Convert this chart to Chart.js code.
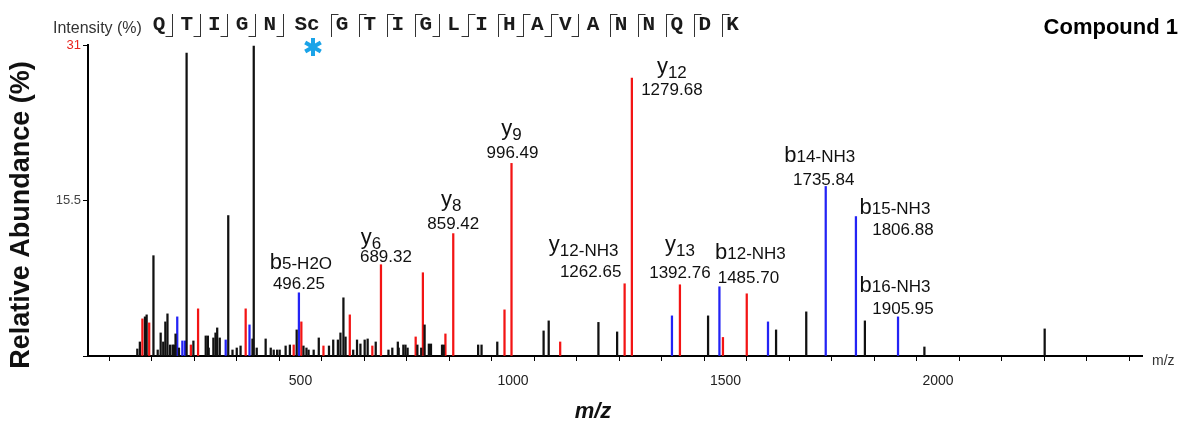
<!DOCTYPE html>
<html>
<head>
<meta charset="utf-8">
<script src="https://cdn.jsdelivr.net/npm/chart.js@4.4.1/dist/chart.umd.min.js"></script>
<style>
  html, body { margin: 0; padding: 0; background: #fff; }
</style>
</head>
<body>
<canvas id="spectrum" width="1188" height="433"></canvas>
<script>
// Peaks: m/z and relative abundance (%)
const blackMz = [116, 122, 134, 138, 154, 164, 171, 177, 182, 187, 193, 199, 202, 206, 214, 232, 248,
    277, 282, 284, 295, 300, 304, 310, 330, 340, 350, 359, 387, 390, 397, 418, 430, 437, 445, 451,
    465, 475, 491, 507, 514, 519, 531, 543, 567, 577, 588, 594, 601, 606, 624, 633, 641, 651, 658,
    677, 707, 716, 729, 731, 742, 747, 752, 775, 784, 792, 802, 807, 833, 837, 918, 926, 963,
    1072, 1084, 1201, 1245, 1459, 1619, 1690, 1828, 1968, 2251];
const blackAbund = [0.7, 1.4, 3.9, 4.1, 10.0, 0.6, 2.3, 1.4, 3.4, 4.2, 1.1, 1.1, 1.1, 2.2, 0.8, 30.2, 1.5,
    2.0, 2.0, 0.8, 1.8, 2.3, 2.8, 1.8, 14.0, 0.6, 0.8, 1.0, 1.7, 30.9, 0.8, 1.7, 0.8, 0.6, 0.6, 0.6,
    1.0, 1.1, 2.6, 1.0, 0.8, 0.6, 0.6, 1.8, 1.0, 1.6, 1.6, 2.3, 5.8, 1.9, 0.6, 1.6, 1.2, 1.6, 1.7,
    1.4, 0.6, 0.8, 1.4, 0.8, 1.1, 1.1, 0.8, 1.1, 0.8, 3.1, 1.2, 1.2, 1.1, 1.1, 1.1, 1.1, 1.4,
    2.5, 3.5, 3.35, 2.4, 4.0, 2.6, 4.4, 3.5, 0.9, 2.7];

const redMz = [128, 144, 242, 259, 371, 484, 502, 554, 616, 669, 689.32, 771, 788, 841, 859.42,
    980, 996.49, 1111, 1262.65, 1279.68, 1392.76, 1494, 1550];
const redAbund = [3.7, 3.3, 1.1, 4.7, 4.7, 1.1, 3.4, 1.0, 4.1, 1.0, 9.1, 1.9, 8.3, 2.2, 12.2,
    4.6, 19.2, 1.4, 7.2, 27.7, 7.1, 1.85, 6.2];

const blueMz = [210, 222, 228, 324, 380, 496.25, 1374, 1485.70, 1600, 1735.84, 1806.88, 1905.95];
const blueAbund = [3.9, 1.5, 1.5, 1.6, 3.1, 6.3, 4.0, 6.9, 3.4, 16.9, 13.9, 3.9];

// Labelled fragment ions
const ionNames = ["b5-H2O", "y6", "y8", "y9", "y12-NH3", "y12", "y13", "b12-NH3", "b14-NH3", "b15-NH3", "b16-NH3"];
const ionMz = [496.25, 689.32, 859.42, 996.49, 1262.65, 1279.68, 1392.76, 1485.70, 1735.84, 1806.88, 1905.95];

// Peptide sequence and fragment marks between residues (b = b ion, y = y ion)
const residues = ["Q", "T", "I", "G", "N", "Sc", "G", "T", "I", "G", "L", "I", "H", "A", "V", "A", "N", "N", "Q", "D", "K"];
const cleavage = ["b", "b", "b", "b", "b", "y", "y", "y", "y", "b", "by", "y", "by", "by", "b", "y", "y", "y", "y", "y"];

const xLabelTicks = [500, 1000, 1500, 2000];
const yLabelTicks = [15.5, 31];

const FONT = '"Liberation Sans", Arial, sans-serif';

function toPoints(mz, abund) {
    return mz.map((m, i) => ({ x: m, y: abund[i] }));
}

function abundAt(mz) {
    const lists = [[redMz, redAbund], [blueMz, blueAbund], [blackMz, blackAbund]];
    for (const [m, a] of lists) {
        const i = m.indexOf(mz);
        if (i >= 0) return a[i];
    }
    return 0;
}

// label placement around the peak top: [name dx, name dy, value dx, value dy]
const ionLabelOffset = [
    [2, -31, 0, -8],
    [-10, -28, 5, -7],
    [-2, -35, 0, -9],
    [0, -35, 1, -10],
    [-41, -40, -34, -11],
    [40, -12, 40, 12],
    [0, -41, 0, -11],
    [31, -35, 29, -8],
    [-6, -31, -2, -6],
    [39, -10, 47, 14],
    [-3, -32, 5, -8],
];

function drawIonName(ctx, name, cx, cy) {
    const prefix = name[0];
    const rest = name.slice(1);
    const isY = prefix === "y";
    ctx.font = `22px ${FONT}`;
    const w1 = ctx.measureText(prefix).width;
    ctx.font = `17px ${FONT}`;
    const w2 = ctx.measureText(rest).width;
    const start = cx - (w1 + w2) / 2;
    const base = cy + 7;
    ctx.textAlign = "left";
    ctx.textBaseline = "alphabetic";
    ctx.font = `22px ${FONT}`;
    ctx.fillText(prefix, start, base);
    ctx.font = `17px ${FONT}`;
    ctx.fillText(rest, start + w1, base + (isY ? 5 : 0));
}

function residueX(i) {
    if (i < 5) return 159 + i * 27.7;
    if (i === 5) return 307;
    return 342 + (i - 6) * 27.9;
}

const decorations = {
    id: "decorations",
    afterDraw(chart) {
        const { ctx, scales: { x, y } } = chart;
        ctx.save();
        ctx.fillStyle = "#111";

        // axis titles
        ctx.save();
        ctx.translate(22, 215);
        ctx.rotate(-Math.PI / 2);
        ctx.font = `bold 27px ${FONT}`;
        ctx.textAlign = "center";
        ctx.textBaseline = "middle";
        ctx.fillText("Relative Abundance (%)", 0, 0);
        ctx.restore();

        ctx.font = `italic bold 22px ${FONT}`;
        ctx.textAlign = "center";
        ctx.textBaseline = "middle";
        ctx.fillText("m/z", 593, 412);

        ctx.font = `14px ${FONT}`;
        ctx.fillStyle = "#333";
        ctx.textAlign = "left";
        ctx.fillText("m/z", x.right + 10, y.bottom + 5);

        // header
        ctx.font = `16px ${FONT}`;
        ctx.fillText("Intensity (%)", 53, 29);
        ctx.fillStyle = "#000";
        ctx.font = `bold 22px ${FONT}`;
        ctx.textAlign = "right";
        ctx.fillText("Compound 1", 1178, 28);

        // sequence with fragment marks
        ctx.font = `bold 21px "Liberation Mono", "Courier New", monospace`;
        ctx.textAlign = "center";
        ctx.fillStyle = "#1a1a1a";
        residues.forEach((r, i) => ctx.fillText(r, residueX(i), 25));
        ctx.strokeStyle = "#333";
        ctx.lineWidth = 1;
        const top = 14, bot = 37, hook = 7;
        cleavage.forEach((c, i) => {
            let sx;
            if (c === "b") sx = residueX(i) + 13;
            else if (c === "y") sx = residueX(i + 1) - 11;
            else sx = (residueX(i) + residueX(i + 1)) / 2;
            sx = Math.round(sx) + 0.5;
            ctx.beginPath();
            ctx.moveTo(sx, top);
            ctx.lineTo(sx, bot);
            if (c.includes("b")) { ctx.moveTo(sx, bot - 0.5); ctx.lineTo(sx - hook, bot - 0.5); }
            if (c.includes("y")) { ctx.moveTo(sx, top + 0.5); ctx.lineTo(sx + hook, top + 0.5); }
            ctx.stroke();
        });

        // modification asterisk under Sc
        ctx.strokeStyle = "#1aa3e8";
        ctx.lineWidth = 4;
        const ax = 313, ay = 47, ar = 9;
        for (let k = 0; k < 3; k++) {
            const a = Math.PI / 2 + k * Math.PI / 3;
            ctx.beginPath();
            ctx.moveTo(ax - ar * Math.cos(a), ay - ar * Math.sin(a));
            ctx.lineTo(ax + ar * Math.cos(a), ay + ar * Math.sin(a));
            ctx.stroke();
        }

        // fragment ion labels
        ctx.fillStyle = "#111";
        ionNames.forEach((name, i) => {
            const px = x.getPixelForValue(ionMz[i]);
            const py = y.getPixelForValue(abundAt(ionMz[i]));
            const [ndx, ndy, vdx, vdy] = ionLabelOffset[i];
            drawIonName(ctx, name, px + ndx, py + ndy);
            ctx.font = `17px ${FONT}`;
            ctx.textAlign = "center";
            ctx.textBaseline = "middle";
            ctx.fillText(ionMz[i].toFixed(2), px + vdx, py + vdy);
        });
        ctx.restore();
    },
};

const ctx = document.getElementById("spectrum").getContext("2d");
const barStyle = { barThickness: 1.6, grouped: false, borderWidth: 0 };

new Chart(ctx, {
    type: "bar",
    data: {
        datasets: [
            { label: "other", data: toPoints(blackMz, blackAbund), backgroundColor: "#111", ...barStyle },
            { label: "y ions", data: toPoints(redMz, redAbund), backgroundColor: "#f31414", ...barStyle },
            { label: "b ions", data: toPoints(blueMz, blueAbund), backgroundColor: "#2323f5", ...barStyle },
        ],
    },
    options: {
        responsive: false,
        animation: false,
        events: [],
        layout: { padding: { top: 45, right: 46, left: 0, bottom: 0 } },
        plugins: {
            legend: { display: false },
            tooltip: { enabled: false },
        },
        scales: {
            x: {
                type: "linear",
                min: 0,
                max: 2480,
                offset: false,
                grid: { drawOnChartArea: false, tickLength: 5, tickColor: "#000", tickWidth: 1 },
                border: { color: "#000", width: 2 },
                ticks: {
                    stepSize: 100,
                    includeBounds: false,
                    autoSkip: false,
                    maxRotation: 0,
                    padding: 12,
                    color: "#222",
                    font: { size: 14, family: FONT },
                    callback: (v) => (xLabelTicks.includes(v) ? v : ""),
                },
                afterFit: (s) => { s.height = 77; },
            },
            y: {
                min: 0,
                max: 31,
                afterBuildTicks: (s) => { s.ticks = [0, ...yLabelTicks].map((v) => ({ value: v })); },
                grid: { drawOnChartArea: false, tickLength: 5, tickColor: "#000" },
                border: { color: "#000", width: 2 },
                ticks: {
                    padding: 2,
                    font: { size: 13, family: FONT },
                    color: (c) => (c.tick && c.tick.value === 31 ? "#e8231c" : "#444"),
                    callback: (v) => (v === 0 ? "" : v),
                },
                afterFit: (s) => { s.width = 88; },
            },
        },
    },
    plugins: [decorations],
});
</script>
</body>
</html>
